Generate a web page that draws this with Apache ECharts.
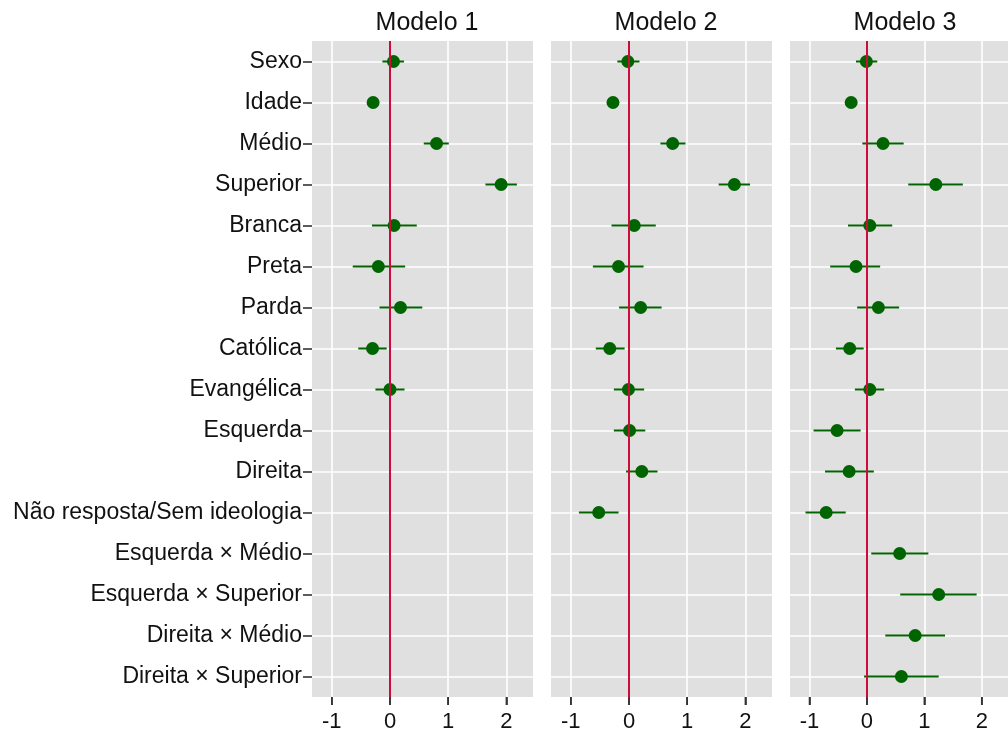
<!DOCTYPE html>
<html>
<head>
<meta charset="utf-8">
<script src="https://cdn.jsdelivr.net/npm/echarts@6/dist/echarts.min.js"></script>
<style>html,body{margin:0;padding:0;background:#fff}#c{width:1008px;height:736px}</style>
</head>
<body>
<div id="c"></div>
<script>
const categories = ["Sexo","Idade","Médio","Superior","Branca","Preta","Parda","Católica","Evangélica","Esquerda","Direita","Não resposta/Sem ideologia","Esquerda × Médio","Esquerda × Superior","Direita × Médio","Direita × Superior"];
const panelTitles = ["Modelo 1","Modelo 2","Modelo 3"];
const xTicks = [-1, 0, 1, 2];

const m1Est = [0.06, -0.29, 0.80, 1.91, 0.07, -0.20, 0.18, -0.30, 0.00, null, null, null, null, null, null, null];
const m1Lo  = [-0.13, -0.31, 0.58, 1.64, -0.31, -0.64, -0.18, -0.545, -0.25, null, null, null, null, null, null, null];
const m1Hi  = [0.24, -0.27, 1.01, 2.18, 0.46, 0.26, 0.555, -0.057, 0.25, null, null, null, null, null, null, null];

const m2Est = [-0.02, -0.275, 0.75, 1.81, 0.09, -0.18, 0.20, -0.33, -0.01, 0.01, 0.22, -0.52, null, null, null, null];
const m2Lo  = [-0.20, -0.295, 0.54, 1.54, -0.30, -0.62, -0.17, -0.57, -0.26, -0.26, -0.05, -0.86, null, null, null, null];
const m2Hi  = [0.18, -0.255, 0.97, 2.08, 0.46, 0.25, 0.56, -0.075, 0.26, 0.28, 0.49, -0.18, null, null, null, null];

const m3Est = [-0.01, -0.275, 0.28, 1.20, 0.05, -0.19, 0.20, -0.30, 0.05, -0.52, -0.31, -0.71, 0.57, 1.25, 0.84, 0.60];
const m3Lo  = [-0.19, -0.295, -0.08, 0.72, -0.33, -0.64, -0.17, -0.54, -0.21, -0.93, -0.73, -1.07, 0.075, 0.58, 0.32, -0.05];
const m3Hi  = [0.18, -0.255, 0.64, 1.67, 0.44, 0.23, 0.56, -0.057, 0.30, -0.11, 0.12, -0.37, 1.07, 1.91, 1.36, 1.25];

const models = [[m1Est, m1Lo, m1Hi], [m2Est, m2Lo, m2Hi], [m3Est, m3Lo, m3Hi]];

const grids = [{left:312},{left:551},{left:790}];
const FONT = '"Liberation Sans", Arial, Helvetica, sans-serif';
const GREEN = '#006400';
const RED = '#cc0c3c';
const Y_MAX = categories.length - 0.5;

const option = {
  backgroundColor: '#ffffff',
  animation: false,
  title: panelTitles.map((t, i) => ({
    text: t, left: grids[i].left + 110, top: 6, textAlign: 'center',
    textStyle: {fontFamily: FONT, fontSize: 25, fontWeight: 'normal', color: '#111'}
  })),
  grid: grids.map(g => ({left: g.left, width: 221, top: 41, height: 656, show: true,
    backgroundColor: '#e0e0e0', borderWidth: 0, containLabel: false})),
  xAxis: grids.map((g, i) => ({
    type: 'value', gridIndex: i, min: -1.34, max: 2.457, position: 'bottom',
    axisLine: {show: false, onZero: false},
    axisTick: {show: true, inside: false, length: 8, customValues: xTicks, lineStyle: {color: '#333333', width: 1.6}},
    axisLabel: {show: true, customValues: xTicks, margin: 14, fontFamily: FONT, fontSize: 22, color: '#111'},
    splitLine: {show: true, lineStyle: {color: '#ffffff', width: 1.6}}
  })),
  yAxis: grids.map((g, i) => ({
    type: 'value', gridIndex: i, min: -0.5, max: Y_MAX, inverse: true, position: 'left',
    axisLine: {show: false, onZero: false},
    axisTick: {show: i === 0, inside: false, length: 9, customValues: categories.map((c, k) => k), lineStyle: {color: '#333', width: 1.6}},
    axisLabel: {show: i === 0, customValues: categories.map((c, k) => k), margin: 10,
      formatter: v => categories[v] || '', fontFamily: FONT, fontSize: 23, color: '#111'},
    splitLine: {show: true, lineStyle: {color: '#ffffff', width: 1.6}}
  })),
  series: []
};

models.forEach((m, i) => {
  const [est, lo, hi] = m;
  const barData = [], ptData = [];
  categories.forEach((c, k) => {
    if (est[k] !== null) {
      barData.push([lo[k], hi[k], k]);
      ptData.push([est[k], k]);
    }
  });
  // x-axis tick marks below each panel, placed through the x scale
  option.series.push({
    type: 'custom', xAxisIndex: i, yAxisIndex: i, z: 5, clip: false, silent: true,
    data: xTicks.map(v => [v]),
    encode: {x: 0},
    renderItem: (params, api) => {
      const p = api.coord([api.value(0), Y_MAX]);
      return {type: 'line', shape: {x1: p[0], y1: p[1], x2: p[0], y2: p[1] + 8},
        style: {stroke: '#333333', lineWidth: 1.6}};
    }
  });
  option.series.push({
    type: 'custom', xAxisIndex: i, yAxisIndex: i, z: 2,
    data: barData,
    encode: {x: [0, 1], y: 2},
    renderItem: (params, api) => {
      const p1 = api.coord([api.value(0), api.value(2)]);
      const p2 = api.coord([api.value(1), api.value(2)]);
      return {type: 'line', shape: {x1: p1[0], y1: p1[1], x2: p2[0], y2: p2[1]},
        style: {stroke: GREEN, lineWidth: 2}};
    }
  });
  option.series.push({
    type: 'scatter', xAxisIndex: i, yAxisIndex: i, z: 3, data: [],
    markLine: {silent: true, symbol: ['none','none'], label: {show: false},
      lineStyle: {color: RED, width: 2, type: 'solid'}, data: [{xAxis: 0}]}
  });
  option.series.push({
    type: 'scatter', xAxisIndex: i, yAxisIndex: i, z: 4, data: ptData,
    symbol: 'circle', symbolSize: 13, itemStyle: {color: GREEN, opacity: 1}
  });
});

const chart = echarts.init(document.getElementById('c'), null, {renderer: 'canvas'});
chart.setOption(option);
</script>
</body>
</html>
